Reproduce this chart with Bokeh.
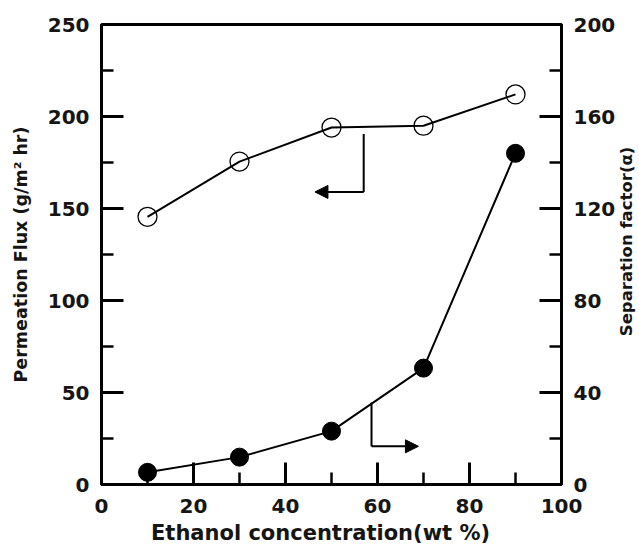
import math
from bokeh.plotting import figure
from bokeh.layouts import row
from bokeh.models import Range1d, LinearAxis, FixedTicker, Arrow, NormalHead
from bokeh.core.properties import value
from bokeh.embed import file_html
from bokeh.resources import INLINE

# Ethanol concentration in the feed (wt %)
ethanol = [10, 30, 50, 70, 90]
# Permeation flux (g/m2 hr), left axis
flux = [145.5, 175.5, 194, 195, 212]
# Separation factor (alpha), right axis
separation = [5.3, 11.9, 23.2, 50.6, 144]

x_ticks = [0, 20, 40, 60, 80, 100]
x_minor = [10, 30, 50, 70, 90]
flux_ticks = [0, 50, 100, 150, 200, 250]
flux_minor = [25, 75, 125, 175, 225]
sep_ticks = [0, 40, 80, 120, 160, 200]
sep_minor = [20, 60, 100, 140, 180]

FONT = "DejaVu Sans"
INK = "#151515"

p = figure(width=618, height=547, output_backend="svg", toolbar_location=None,
           x_range=Range1d(0, 100), y_range=Range1d(0, 250),
           min_border_left=101, min_border_right=56, min_border_top=24,
           min_border_bottom=63, x_axis_location=None, y_axis_location=None)
p.extra_y_ranges = {"sep": Range1d(0, 200)}
p.grid.visible = False
p.background_fill_color = "white"
p.border_fill_color = "white"
p.outline_line_color = "black"
p.outline_line_width = 3


def style_axis(ax, ticks, standoff, title_standoff, title_size):
    ax.ticker = FixedTicker(ticks=ticks, minor_ticks=[])
    ax.axis_line_width = 3
    ax.axis_line_color = "black"
    ax.major_tick_in = 0
    ax.major_tick_out = 0
    ax.minor_tick_in = 0
    ax.minor_tick_out = 0
    ax.major_tick_line_color = None
    ax.minor_tick_line_color = None
    ax.major_label_text_font = FONT
    ax.major_label_text_font_style = "bold"
    ax.major_label_text_font_size = "20px"
    ax.major_label_text_color = INK
    ax.major_label_standoff = standoff
    ax.axis_label_text_font = FONT
    ax.axis_label_text_font_style = "bold"
    ax.axis_label_text_font_size = title_size
    ax.axis_label_text_color = INK
    ax.axis_label_standoff = title_standoff


# trailing no-break spaces nudge the centred title a little to the left
x_axis = LinearAxis(axis_label="Ethanol concentration(wt %)\u00a0\u00a0\u00a0")
style_axis(x_axis, x_ticks, 14, 5, "21px")
p.add_layout(x_axis, "below")

left_axis = LinearAxis(axis_label="Permeation Flux (g/m\u00b2 hr)")
style_axis(left_axis, flux_ticks, 12, 14, "17.5px")
p.add_layout(left_axis, "left")

right_axis = LinearAxis(y_range_name="sep")
style_axis(right_axis, sep_ticks, 12, 0, "17px")
p.add_layout(right_axis, "right")

# Inward tick marks: dashes centred on the frame edge, the outer half is clipped away
MAJOR, MINOR = 44, 24
p.scatter(x_ticks, [0] * len(x_ticks), marker="dash", size=MAJOR, angle=math.pi / 2,
          line_color="black", line_width=3)
p.scatter(x_minor, [0] * len(x_minor), marker="dash", size=MINOR, angle=math.pi / 2,
          line_color="black", line_width=2.5)
p.scatter([0] * len(flux_ticks), flux_ticks, marker="dash", size=MAJOR,
          line_color="black", line_width=3)
p.scatter([0] * len(flux_minor), flux_minor, marker="dash", size=MINOR,
          line_color="black", line_width=2.5)
p.scatter([100] * len(sep_ticks), sep_ticks, marker="dash", size=MAJOR,
          line_color="black", line_width=3, y_range_name="sep")
p.scatter([100] * len(sep_minor), sep_minor, marker="dash", size=MINOR,
          line_color="black", line_width=2.5, y_range_name="sep")

# Flux curve: open circles
p.line(ethanol, flux, line_color="black", line_width=2)
p.scatter(ethanol, flux, size=19, marker="circle", fill_color=None,
          line_color="black", line_width=1.3)

# Separation factor curve: filled circles on the right-hand scale
p.line(ethanol, separation, line_color="black", line_width=2, y_range_name="sep")
p.scatter(ethanol, separation, size=18, marker="circle", fill_color="black",
          line_color="black", y_range_name="sep")

# Pointer to the flux axis
p.segment(x0=[57.0], y0=[190.5], x1=[57.0], y1=[159.0], line_color="black", line_width=2)
p.add_layout(Arrow(end=NormalHead(size=13, fill_color="black", line_color="black"),
                   x_start=57.0, y_start=159.0, x_end=46.4, y_end=159.0,
                   line_color="black", line_width=2))

# Pointer to the separation factor axis
p.segment(x0=[58.7], y0=[35.6], x1=[58.7], y1=[16.6], line_color="black", line_width=2,
          y_range_name="sep")
p.add_layout(Arrow(end=NormalHead(size=13, fill_color="black", line_color="black"),
                   x_start=58.7, y_start=16.6, x_end=68.9, y_end=16.6,
                   y_range_name="sep", line_color="black", line_width=2))

# Narrow strip at the right carrying the right-hand axis title, reading upwards
strip = figure(width=21, height=547, output_backend="svg", toolbar_location=None,
               x_range=Range1d(0, 21), y_range=Range1d(547, 0),
               min_border=0, x_axis_location=None, y_axis_location=None)
strip.grid.visible = False
strip.outline_line_color = None
strip.background_fill_color = "white"
strip.border_fill_color = "white"
strip.text(x=[8], y=[258], text=["Separation factor(\u03b1)"], angle=math.pi / 2,
           text_align="center", text_baseline="middle", text_font=value(FONT),
           text_font_style="bold", text_font_size="16.5px", text_color=INK)

layout = row(p, strip, spacing=0)
open("out.html", "w").write(file_html(layout, INLINE))
